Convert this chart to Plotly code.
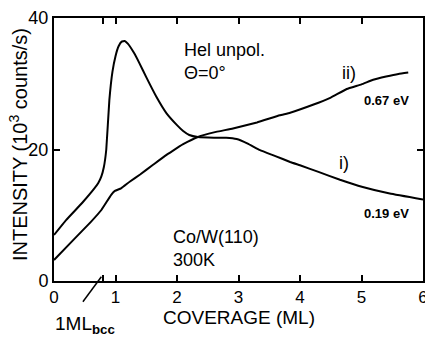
import plotly.graph_objects as go

# Co/W(110) at 300 K, He I unpolarized, normal emission
cov_019 = [0.0, 0.2, 0.46, 0.65, 0.72, 0.77, 0.81, 0.85, 0.9, 0.95, 1.0, 1.05, 1.1, 1.15, 1.2, 1.3, 1.39,
           1.5, 1.66, 1.83, 2.0, 2.1, 2.2, 2.34, 2.6, 2.8, 2.97, 3.15, 3.35, 3.6, 3.84, 4.0, 4.3, 4.65,
           5.02, 5.46, 6.0]
int_019 = [7.0, 9.3, 11.9, 14.0, 14.9, 15.9, 17.3, 20.0, 27.5, 31.8, 34.2, 35.7, 36.4, 36.5, 36.1, 34.7, 33.1,
           31.0, 28.1, 25.5, 23.7, 22.8, 22.2, 21.9, 21.8, 21.8, 21.6, 20.9, 19.9, 19.0, 18.1, 17.6, 16.6, 15.4,
           14.3, 13.3, 12.4]

cov_067 = [0.0, 0.3, 0.6, 0.77, 0.93, 0.99, 1.09, 1.23, 1.4, 1.6, 1.8, 1.93, 2.1, 2.34, 2.6, 2.91,
           3.3, 3.67, 3.84, 4.21, 4.5, 4.76, 5.0, 5.19, 5.4, 5.6, 5.76]
int_067 = [3.2, 6.1, 9.0, 10.8, 13.1, 13.7, 14.1, 15.1, 16.2, 17.6, 19.0, 19.8, 20.8, 21.9, 22.6, 23.2,
           24.1, 25.2, 25.6, 26.8, 27.9, 29.2, 29.9, 30.6, 31.1, 31.5, 31.7]

ml_bcc = 0.8
x_ticks = [0, ml_bcc, 1, 2, 3, 4, 5, 6]
x_ticktext = ["0", "", "1", "2", "3", "4", "5", "6"]
y_ticks = [0, 20, 40]

FONT = "Liberation Sans"
line_style = dict(color="black", width=2)

fig = go.Figure()
fig.add_trace(go.Scatter(x=cov_019, y=int_019, mode="lines", line=dict(line_style, shape="spline", smoothing=0.3)))
fig.add_trace(go.Scatter(x=cov_067, y=int_067, mode="lines", line=dict(line_style, shape="spline", smoothing=0.3)))

fig.update_layout(
    width=425, height=337,
    margin=dict(l=54, r=2, t=18, b=56),
    paper_bgcolor="white", plot_bgcolor="white",
    showlegend=False,
    font=dict(family=FONT, color="black"),
)
fig.update_xaxes(
    range=[0, 6], tickvals=x_ticks, ticktext=x_ticktext,
    ticks="inside", ticklen=6, tickwidth=2, tickcolor="black",
    showline=True, linecolor="black", linewidth=2, mirror="ticks",
    showgrid=False, zeroline=False, automargin=False,
    tickfont=dict(size=17, family=FONT), ticklabelstandoff=0,
    ticklabeloverflow="allow",
)
fig.update_yaxes(
    range=[0, 40], tickvals=y_ticks,
    ticks="inside", ticklen=6, tickwidth=2, tickcolor="black",
    showline=True, linecolor="black", linewidth=2, mirror="ticks",
    showgrid=False, zeroline=False, automargin=False,
    tickfont=dict(size=18, family=FONT),
)

def label(text, x, y, size=18, xref="x", yref="y", xanchor="left", angle=0):
    fig.add_annotation(text=text, x=x, y=y, xref=xref, yref=yref, xanchor=xanchor,
                       yanchor="middle", showarrow=False, textangle=angle,
                       font=dict(size=size, family=FONT, color="black"))

label("Hel unpol.", 2.08, 35.1)
label("Θ=0°", 2.08, 31.6)
label("ii)", 4.65, 31.6)
label("<b>0.67 eV</b>", 5.0, 27.5, size=13)
label("i)", 4.6, 17.9)
label("<b>0.19 eV</b>", 5.0, 10.3, size=13)
label("Co/W(110)", 1.9, 6.7)
label("300K", 1.9, 3.2)
label("COVERAGE (ML)", 3.0, -0.14, size=19, yref="paper", xanchor="center")
label("INTENSITY (10<sup>3</sup> counts/s)", -0.098, 0.52, size=20, xref="paper", yref="paper",
      xanchor="center", angle=-90)
label("1ML<sub><b>bcc</b></sub>", 0.5, -0.168, size=19, yref="paper", xanchor="center")

# pointer from the 1 ML bcc tick down to its label
fig.add_shape(type="line", xref="x", yref="paper", x0=ml_bcc - 0.03, y0=0.016, x1=0.47, y1=-0.079,
              line=dict(color="black", width=1.5))

fig.write_html("out.html")
